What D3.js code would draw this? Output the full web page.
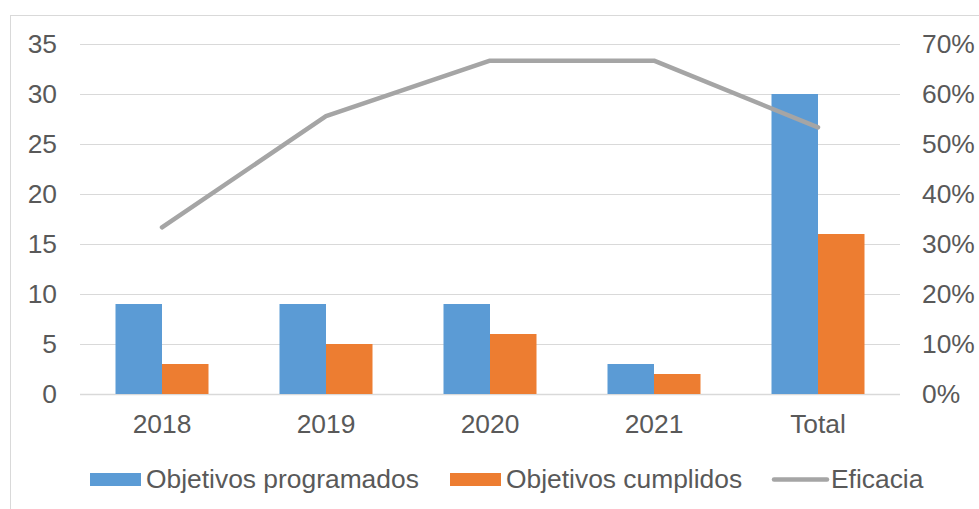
<!DOCTYPE html>
<html>
<head>
<meta charset="utf-8">
<script src="https://cdn.jsdelivr.net/npm/d3@7"></script>
<style>
  body { margin: 0; background: #fff; }
  text { font-family: "Liberation Sans", Arial, sans-serif; fill: #595959; }
</style>
</head>
<body>
<div id="chart"></div>
<script>
const categories = ["2018", "2019", "2020", "2021", "Total"];
const programados = [9, 9, 9, 3, 30];
const cumplidos = [3, 5, 6, 2, 16];
const eficacia = [0.3333, 0.5556, 0.6667, 0.6667, 0.5333];
const leftTicks = [0, 5, 10, 15, 20, 25, 30, 35];
const rightTicks = [0, 0.1, 0.2, 0.3, 0.4, 0.5, 0.6, 0.7];

const width = 979, height = 509;
const margin = { left: 80, right: 79, top: 44, bottom: 115 };
const fontSize = "26.4px";

const svg = d3.select("#chart").append("svg")
  .attr("width", width)
  .attr("height", height);

// chart area border
svg.append("rect")
  .attr("x", 10.5).attr("y", 15.5)
  .attr("width", width + 10).attr("height", height + 10)
  .attr("fill", "none").attr("stroke", "#d9d9d9").attr("stroke-width", 1);

const x = d3.scaleBand()
  .domain(categories)
  .range([margin.left, width - margin.right]);

const yLeft = d3.scaleLinear().domain([0, 35]).range([height - margin.bottom, margin.top]);
const yRight = d3.scaleLinear().domain([0, 0.7]).range([height - margin.bottom, margin.top]);

// gridlines
svg.append("g")
  .selectAll("line")
  .data(leftTicks)
  .join("line")
    .attr("x1", margin.left).attr("x2", width - margin.right)
    .attr("y1", d => Math.round(yLeft(d)) + 0.5)
    .attr("y2", d => Math.round(yLeft(d)) + 0.5)
    .attr("stroke", "#d9d9d9").attr("stroke-width", d => d === 0 ? 1.5 : 1);

function styleAxis(g) {
  g.select(".domain").remove();
  g.selectAll("text")
    .style("font-size", fontSize)
    .attr("fill", "#595959")
    .attr("font-family", "Liberation Sans, Arial, sans-serif");
}

// axes
svg.append("g")
  .attr("transform", `translate(${margin.left},0)`)
  .call(d3.axisLeft(yLeft).tickValues(leftTicks).tickSize(0).tickPadding(23))
  .call(styleAxis);

svg.append("g")
  .attr("transform", `translate(${width - margin.right},0)`)
  .call(d3.axisRight(yRight).tickValues(rightTicks).tickSize(0).tickPadding(22)
    .tickFormat(d3.format(".0%")))
  .call(styleAxis);

svg.append("g")
  .attr("transform", `translate(0,${height - margin.bottom})`)
  .call(d3.axisBottom(x).tickSize(0).tickPadding(20))
  .call(styleAxis);

// bars
const barW = 46.5;
svg.append("g")
  .selectAll("rect")
  .data(categories)
  .join("rect")
    .attr("x", d => x(d) + x.bandwidth() / 2 - barW)
    .attr("y", (d, i) => yLeft(programados[i]))
    .attr("width", barW)
    .attr("height", (d, i) => yLeft(0) - yLeft(programados[i]))
    .attr("fill", "#5b9bd5");

svg.append("g")
  .selectAll("rect")
  .data(categories)
  .join("rect")
    .attr("x", d => x(d) + x.bandwidth() / 2)
    .attr("y", (d, i) => yLeft(cumplidos[i]))
    .attr("width", barW)
    .attr("height", (d, i) => yLeft(0) - yLeft(cumplidos[i]))
    .attr("fill", "#ed7d31");

// line
const line = d3.line()
  .x((d, i) => x(categories[i]) + x.bandwidth() / 2)
  .y(d => yRight(d));

svg.append("path")
  .datum(eficacia)
  .attr("d", line)
  .attr("fill", "none")
  .attr("stroke", "#a5a5a5")
  .attr("stroke-width", 4.5)
  .attr("stroke-linecap", "round")
  .attr("stroke-linejoin", "round");

// legend
const legend = svg.append("g").attr("transform", "translate(0,479)");
legend.append("rect").attr("x", 90).attr("y", -6).attr("width", 51).attr("height", 13).attr("fill", "#5b9bd5");
legend.append("text").attr("x", 146).attr("y", 9).style("font-size", fontSize).text("Objetivos programados");
legend.append("rect").attr("x", 450).attr("y", -6).attr("width", 51).attr("height", 13).attr("fill", "#ed7d31");
legend.append("text").attr("x", 506).attr("y", 9).style("font-size", fontSize).text("Objetivos cumplidos");
legend.append("line").attr("x1", 774).attr("x2", 827).attr("y1", 0.5).attr("y2", 0.5)
  .attr("stroke", "#a5a5a5").attr("stroke-width", 4.5).attr("stroke-linecap", "round");
legend.append("text").attr("x", 831).attr("y", 9).style("font-size", fontSize).text("Eficacia");
</script>
</body>
</html>
